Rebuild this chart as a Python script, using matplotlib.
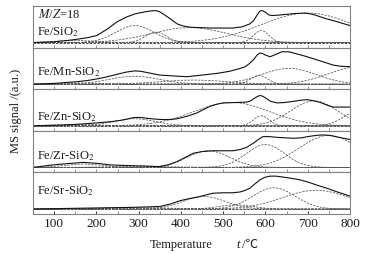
import numpy as np
import matplotlib
matplotlib.use("Agg")
import matplotlib.pyplot as plt

plt.rcParams['font.family'] = ['Liberation Serif', 'Noto Sans CJK SC', 'DejaVu Serif']
plt.rcParams['mathtext.fontset'] = 'stix'

labels = ["Fe/SiO$_2$", "Fe/Mn-SiO$_2$", "Fe/Zn-SiO$_2$", "Fe/Zr-SiO$_2$", "Fe/Sr-SiO$_2$"]

# measured (solid) curves: temperature (°C) and signal (a.u., baseline = 0)
t_sio2 = [50, 100, 130, 154, 180, 201, 225, 249, 270, 291, 305, 315, 328, 339, 348, 358, 375, 391, 405, 421,
          445, 470, 500, 523, 545, 563, 572, 580, 587, 593, 600, 607, 615, 630, 650, 672, 694, 712, 730, 745, 760, 780, 800]
s_sio2 = [0.0, 0.02, 0.05, 0.08, 0.12, 0.17, 0.32, 0.50, 0.61, 0.69, 0.72, 0.74, 0.76, 0.77, 0.75, 0.69, 0.57, 0.45, 0.40, 0.37,
          0.36, 0.35, 0.35, 0.35, 0.38, 0.45, 0.53, 0.66, 0.76, 0.77, 0.73, 0.67, 0.65, 0.66, 0.68, 0.70, 0.71, 0.68, 0.62, 0.57, 0.53, 0.47, 0.41]

t_mn = [50, 100, 154, 180, 208, 230, 250, 270, 291, 305, 320, 335, 350, 380, 414, 450, 485, 515, 540, 552, 560, 571,
        580, 587, 593, 600, 611, 625, 639, 655, 670, 685, 698, 730, 760, 780, 800]
s_mn = [0.0, 0.02, 0.06, 0.09, 0.14, 0.19, 0.24, 0.29, 0.32, 0.31, 0.28, 0.25, 0.22, 0.20, 0.18, 0.22, 0.26, 0.31, 0.38, 0.42, 0.48, 0.58,
        0.70, 0.75, 0.74, 0.70, 0.66, 0.72, 0.78, 0.78, 0.74, 0.70, 0.66, 0.56, 0.46, 0.43, 0.42]

t_zn = [50, 121, 160, 201, 235, 263, 280, 291, 305, 320, 340, 358, 375, 391, 415, 438, 455, 469, 485, 500, 530, 556,
        565, 572, 580, 587, 594, 600, 612, 627, 645, 660, 680, 698, 715, 730, 745, 760, 780, 800]
s_zn = [0.0, 0.02, 0.04, 0.07, 0.10, 0.14, 0.18, 0.20, 0.20, 0.18, 0.16, 0.15, 0.15, 0.17, 0.23, 0.31, 0.40, 0.47, 0.52, 0.55, 0.56, 0.57,
        0.60, 0.65, 0.70, 0.73, 0.71, 0.67, 0.59, 0.55, 0.56, 0.58, 0.61, 0.63, 0.60, 0.56, 0.50, 0.45, 0.45, 0.45]

t_zr = [50, 97, 130, 168, 200, 232, 260, 287, 320, 350, 370, 391, 410, 429, 450, 476, 500, 523, 540, 555, 571, 583,
        594, 610, 630, 650, 665, 685, 700, 720, 736, 752, 770, 785, 800]
s_zr = [0.0, 0.06, 0.09, 0.12, 0.10, 0.06, 0.05, 0.04, 0.03, 0.02, 0.06, 0.14, 0.24, 0.34, 0.38, 0.40, 0.40, 0.40, 0.43, 0.48, 0.58, 0.67,
        0.74, 0.74, 0.72, 0.71, 0.70, 0.71, 0.74, 0.77, 0.78, 0.77, 0.73, 0.70, 0.67]

t_sr = [50, 168, 287, 350, 375, 398, 420, 445, 460, 476, 500, 523, 540, 550, 563, 577, 587, 598, 611, 625, 640, 660,
        682, 700, 720, 745, 770, 800]
s_sr = [0.0, 0.02, 0.04, 0.06, 0.12, 0.20, 0.25, 0.30, 0.34, 0.38, 0.39, 0.39, 0.41, 0.44, 0.50, 0.62, 0.70, 0.76, 0.79, 0.79, 0.77, 0.74,
        0.70, 0.65, 0.58, 0.50, 0.41, 0.31]

t_meas = [t_sio2, t_mn, t_zn, t_zr, t_sr]
s_meas = [s_sio2, s_mn, s_zn, s_zr, s_sr]

# fitted components (dashed): peak centre (°C), height, width (°C)
c_sio2 = [150, 291, 341, 420, 590, 700]
h_sio2 = [0.05, 0.41, 0.25, 0.36, 0.29, 0.71]
w_sio2 = [50, 45, 25, 90, 18, 110]

c_mn = [150, 290, 430, 585, 655, 820]
h_mn = [0.03, 0.19, 0.10, 0.21, 0.38, 0.42]
w_mn = [50, 60, 80, 20, 65, 70]

c_zn = [150, 290, 520, 590, 715, 820]
h_zn = [0.03, 0.17, 0.56, 0.24, 0.60, 0.35]
w_zn = [50, 50, 90, 18, 55, 35]

c_zr = [170, 300, 465, 600, 750]
h_zr = [0.08, 0.03, 0.40, 0.55, 0.77]
w_zr = [45, 60, 50, 45, 70]

c_sr = [300, 455, 530, 620, 720]
h_sr = [0.03, 0.30, 0.10, 0.51, 0.45]
w_sr = [80, 50, 40, 50, 80]

comp_c = [c_sio2, c_mn, c_zn, c_zr, c_sr]
comp_h = [h_sio2, h_mn, h_zn, h_zr, h_sr]
comp_w = [w_sio2, w_mn, w_zn, w_zr, w_sr]

xticks = [100, 200, 300, 400, 500, 600, 700, 800]

fig = plt.figure(figsize=(3.66, 2.55), dpi=100)
left, right, top, bottom = 33 / 366, 350 / 366, 1 - 7 / 255, 1 - 215 / 255
n = 5
ph = (top - bottom) / n
frame_col = '#808080'
txt_col = '#1a1a1a'
base = 0.12
label_y_px = [32, 72, 117, 156, 191]
fs = 9

T = np.linspace(50, 800, 400)
for i in range(n):
    ax = fig.add_axes([left, top - (i + 1) * ph, right - left, ph])
    ax.set_xlim(50, 800)
    ax.set_ylim(0, 1)
    ax.plot([50, 800], [base, base], color='#333333', lw=0.6, ls=(0, (3, 1.5)))
    for c, h, w in zip(comp_c[i], comp_h[i], comp_w[i]):
        y = base + h * np.exp(-0.5 * ((T - c) / w) ** 2)
        ax.plot(T, y, color='#555555', lw=0.55, ls=(0, (3, 1.5)))
    ax.plot(t_meas[i], base + np.array(s_meas[i]), color='#111111', lw=0.8)
    for sp in ax.spines.values():
        sp.set_color(frame_col)
        sp.set_linewidth(0.8)
    ax.set_yticks([])
    ax.set_xticks(xticks)
    ax.set_xticks(np.arange(50, 801, 50), minor=True)
    ax.tick_params(axis='x', which='both', direction='in', color=frame_col, length=2.5, width=0.6)
    if i < n - 1:
        ax.tick_params(axis='x', labelbottom=False)
    else:
        ax.tick_params(axis='x', labelsize=fs + 0.5, pad=2, colors=txt_col)
    yl = 1 - label_y_px[i] / 255
    fig.text(37 / 366, yl, labels[i], fontsize=fs, va='center', ha='left', color=txt_col)

fig.text(38 / 366, 1 - 14 / 255, r"$M$/$Z$=18", fontsize=fs, va='center', ha='left', color=txt_col)
fig.text(16 / 366, (top + bottom) / 2, "MS signal /(a.u.)", rotation=90, fontsize=fs,
         va='center', ha='center', color=txt_col)
# x-axis title
yx = 1 - 245 / 255
fig.text(181 / 366, yx, "Temperature", fontsize=fs, va='center', ha='center', color=txt_col)
fig.text(238 / 366, yx, "t", fontsize=fs, style='italic', va='center', ha='center', color=txt_col)
fig.text(242 / 366, yx, "/\u2103", fontsize=fs, va='center', ha='left', color=txt_col)

fig.savefig("out.png", dpi=100)
